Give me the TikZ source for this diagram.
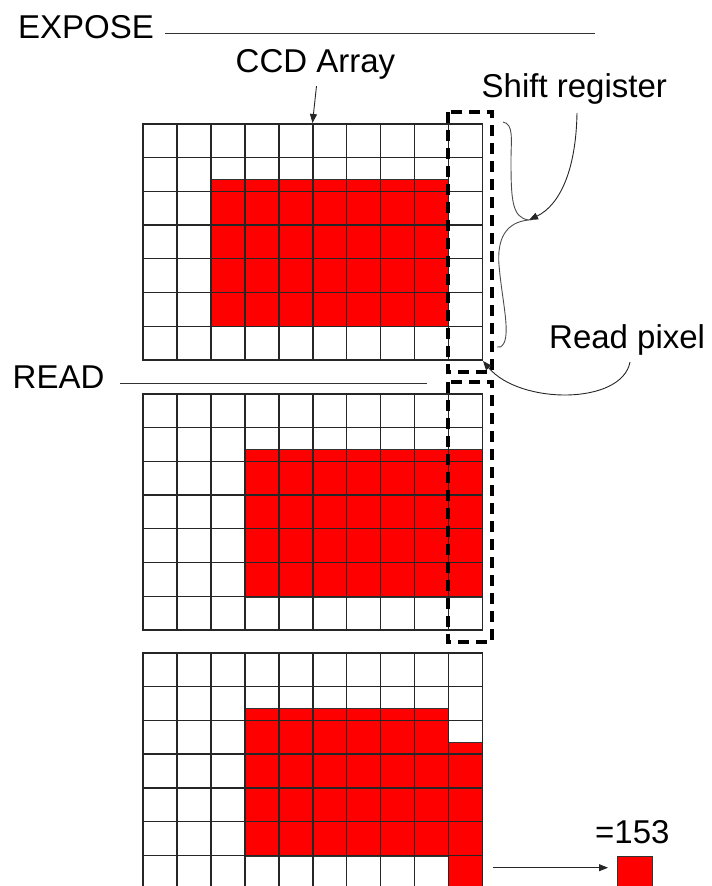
\documentclass[tikz,border=0pt]{standalone}
\usepackage{fontspec}
\setmainfont{Liberation Sans}
\usetikzlibrary{arrows.meta}
\newcommand{\ccdgrid}[1]{%
  \foreach \i in {0,...,10} \draw[gl] ({143+\i*33.97},#1) -- ({143+\i*33.97},{#1+236});
  \foreach \j in {0,...,7} \draw[gl] (143,{#1+\j*33.71}) -- (482.7,{#1+\j*33.71});}
\begin{document}
\begin{tikzpicture}[x=1pt,y=-1pt,
  lbl/.style={inner sep=0pt, anchor=base west, font=\fontsize{33}{40}\selectfont},
  gl/.style={line width=1.3pt, black!85, line cap=rect},
  redcell/.style={fill=red, draw=black!80, line width=0.8pt},
  dbox/.style={line width=3.8pt, dash pattern=on 11pt off 7pt},
  pointer/.style={line width=0.9pt, black!85, -{Triangle[length=9pt,width=7pt]}},
  brace/.style={line width=0.9pt, black!70},
  rule/.style={line width=1.3pt, black!80}]
\useasboundingbox (0,0) rectangle (712,886);
\clip (0,0) rectangle (712,886);
% red regions
\draw[redcell] (210.94,179) rectangle (448.73,326.2);
\draw[redcell] (244.91,449) rectangle (482.7,596.9);
\draw[redcell] (244.91,708.5) rectangle (448.73,855.9);
\draw[redcell] (448.73,742.3) rectangle (482.7,900);
% grids
\ccdgrid{124}
\ccdgrid{394}
\ccdgrid{653}
% dashed boxes
\draw[dbox] (448,112) rectangle (492,372);
\draw[dbox] (448,382) rectangle (492,642);
% labels
\node[lbl] (expose) at (18,38.5) {EXPOSE};
\node[lbl] (ccd) at (235.5,72) {CCD Array};
\node[lbl] (shift) at (481.5,97) {Shift register};
\node[lbl] (readpx) at (549,348) {Read pixel};
\node[lbl] (read) at (12.5,388) {READ};
\node[lbl] (val) at (595,843.3) {=153};
% rules
\coordinate (e1) at (165,33.3); \coordinate (e2) at (595,33.3);
\draw[rule] (e1) -- (e2);
\coordinate (r1) at (120,383.3); \coordinate (r2) at (427,383.3);
\draw[rule] (r1) -- (r2);
% pointers
\coordinate (c1) at (316.5,86); \coordinate (c2) at (312.5,123);
\draw[pointer] (c1) -- (c2);
\coordinate (s1) at (577,113); \coordinate (s2) at (529,220);
\draw[pointer] (s1) .. controls (576,170) and (560,205) .. (s2);
\coordinate (p1) at (630,362); \coordinate (p2) at (483,361);
\draw[pointer] (p1) .. controls (622,405) and (520,405) .. (p2);
% brace
\draw[brace] (503,122) .. controls (514,124) and (511,140) .. (511,160)
  .. controls (511,200) and (512,218) .. (529,220)
  .. controls (505,222) and (497,240) .. (499,265)
  .. controls (502,300) and (510,330) .. (504,343)
  .. controls (502,347) and (499,348) .. (497,347);
% output pixel
\node[redcell, anchor=north west, inner sep=0pt, minimum width=35pt, minimum height=40pt] (pix) at (616.7,856) {};
\coordinate (o1) at (493,867.7); \coordinate (o2) at (608,867.7);
\draw[pointer] (o1) -- (o2);
\end{tikzpicture}
\end{document}
